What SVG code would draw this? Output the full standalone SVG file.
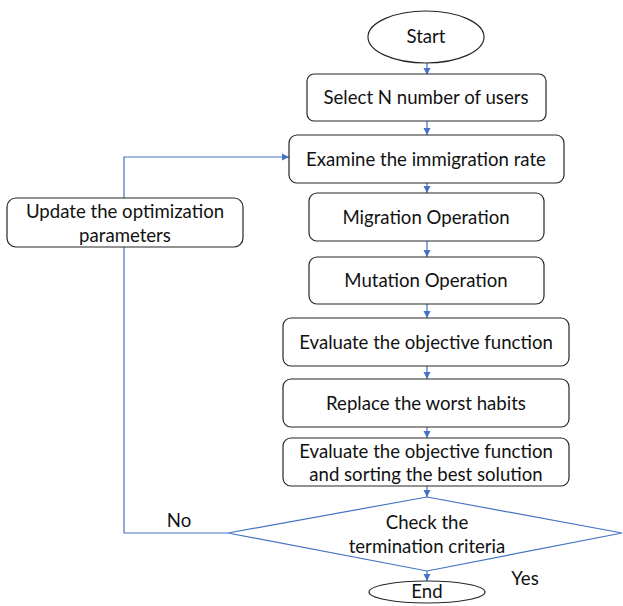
<svg xmlns="http://www.w3.org/2000/svg" width="623" height="606" viewBox="0 0 623 606">
<style>
.n{fill:#fff;stroke:#262626;stroke-width:1.2}
.c{fill:none;stroke:#4472C4;stroke-width:1.2}
text{font-family:Lato,"Liberation Sans",sans-serif;font-size:18.6px;fill:#111;text-anchor:middle}
</style>
<defs>
<marker id="a" markerUnits="userSpaceOnUse" markerWidth="8" markerHeight="8" refX="7" refY="4" orient="auto">
<path d="M0,0.5 L7,4 L0,7.5 Z" fill="#4472C4"/>
</marker>
</defs>
<rect width="623" height="606" fill="#fff"/>
<g id="connectors">
<line class="c" x1="427" y1="62" x2="427" y2="75" marker-end="url(#a)"/>
<line class="c" x1="427" y1="120" x2="427" y2="135" marker-end="url(#a)"/>
<line class="c" x1="427" y1="183" x2="427" y2="193" marker-end="url(#a)"/>
<line class="c" x1="427" y1="241" x2="427" y2="257" marker-end="url(#a)"/>
<line class="c" x1="427" y1="304" x2="427" y2="318" marker-end="url(#a)"/>
<line class="c" x1="427" y1="366" x2="427" y2="379" marker-end="url(#a)"/>
<line class="c" x1="427" y1="427" x2="427" y2="438" marker-end="url(#a)"/>
<line class="c" x1="427" y1="486" x2="427" y2="497" marker-end="url(#a)"/>
<line class="c" x1="427" y1="571" x2="427" y2="581" marker-end="url(#a)"/>
<polyline class="c" points="228,533 124,533 124,157 289,157" marker-end="url(#a)"/>
<text x="179" y="527">No</text>
<text x="525" y="585">Yes</text>
</g>
<g id="start"><ellipse class="n" cx="426" cy="37" rx="58" ry="26"/><text x="426" y="43">Start</text></g>
<g id="select"><rect class="n" x="307" y="74" width="239" height="47" rx="7"/><text x="426" y="104">Select N number of users</text></g>
<g id="examine"><rect class="n" x="289" y="135" width="275" height="48" rx="8"/><text x="426" y="166">Examine the immigration rate</text></g>
<g id="migration"><rect class="n" x="309" y="193" width="235" height="48" rx="8"/><text x="426" y="224">Migration Operation</text></g>
<g id="mutation"><rect class="n" x="309" y="257" width="235" height="47" rx="8"/><text x="426" y="287">Mutation Operation</text></g>
<g id="evaluate1"><rect class="n" x="283" y="318" width="286" height="48" rx="8"/><text x="426" y="349">Evaluate the objective function</text></g>
<g id="replace"><rect class="n" x="283" y="379" width="286" height="48" rx="8"/><text x="426" y="410">Replace the worst habits</text></g>
<g id="evaluate2"><rect class="n" x="283" y="438" width="286" height="48" rx="8"/><text x="426" y="458">Evaluate the objective function</text><text x="426" y="481">and sorting the best solution</text></g>
<g id="update"><rect class="n" x="7" y="198" width="236" height="49" rx="9"/><text x="125" y="218">Update the optimization</text><text x="125" y="242">parameters</text></g>
<g id="check"><polygon points="427,497 622,533 427,571 228,533" fill="#fff" stroke="#4472C4" stroke-width="1.2"/><text x="427" y="529">Check the</text><text x="427" y="553">termination criteria</text></g>
<g id="end"><ellipse class="n" cx="427" cy="592" rx="58" ry="11"/><text x="427" y="598">End</text></g>
</svg>
